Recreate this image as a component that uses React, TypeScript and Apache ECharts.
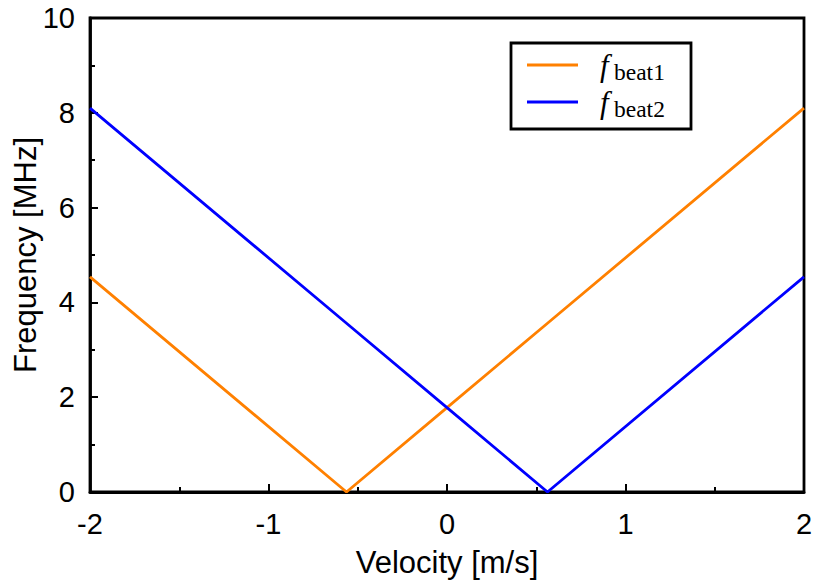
import React, { useEffect, useRef } from "react";
import * as echarts from "echarts";

// Beat frequencies versus target velocity (breakpoints of the V-shaped curves)
const velocity = [-2, -0.563, 0, 0.563, 2];
const fBeat1 = [4.54, 0, 1.78, 3.56, 8.1];
const fBeat2 = [8.1, 3.56, 1.78, 0, 4.54];

const xTicks = [-2, -1, 0, 1, 2];
const yTicks = [0, 2, 4, 6, 8, 10];

const seriesNames = ["beat1", "beat2"];
const seriesColors = ["#ff8000", "#0000ff"];

const sans = "'Liberation Sans', Arial, Helvetica, sans-serif";
const serif = "'Liberation Serif', 'Times New Roman', serif";

export default function App() {
  const ref = useRef<HTMLDivElement>(null);

  useEffect(() => {
    if (!ref.current) return;
    const chart = echarts.init(ref.current, undefined, { renderer: "svg" });

    const legendItems = seriesNames.map((name, i) => {
      const cy = 65 + i * 37;
      return [
        {
          type: "line",
          shape: { x1: 527, y1: cy, x2: 578, y2: cy },
          style: { stroke: seriesColors[i], lineWidth: 2.8 },
        },
        {
          type: "text",
          x: 600,
          y: cy,
          style: {
            text: "f",
            fontFamily: serif,
            fontStyle: "italic",
            fontSize: 31,
            fill: "#000",
            verticalAlign: "middle",
          },
        },
        {
          type: "text",
          x: 614,
          y: cy + 7,
          style: {
            text: name,
            fontFamily: serif,
            fontSize: 23.5,
            fill: "#000",
            verticalAlign: "middle",
          },
        },
      ];
    });

    const axisCommon = {
      axisLine: { show: true, onZero: false, lineStyle: { color: "#000", width: 2.8 } },
      axisTick: { show: true, inside: true, length: 8, lineStyle: { color: "#000", width: 2 } },
      minorTick: { show: true, splitNumber: 2, length: 5, lineStyle: { color: "#000", width: 2 } },
      splitLine: { show: false },
      nameLocation: "middle",
      nameMoveOverlap: false,
      nameTextStyle: { fontFamily: sans, fontSize: 31, color: "#000" },
    };

    chart.setOption({
      animation: false,
      grid: {
        left: 90,
        right: 14,
        top: 18,
        bottom: 89,
        outerBoundsMode: "none",
        containLabel: false,
        show: true,
        borderColor: "#000",
        borderWidth: 2.8,
        backgroundColor: "transparent",
      },
      xAxis: {
        type: "value",
        min: xTicks[0],
        max: xTicks[xTicks.length - 1],
        interval: 1,
        name: "Velocity [m/s]",
        nameGap: 55,
        ...axisCommon,
        axisLabel: {
          fontFamily: sans,
          fontSize: 29,
          color: "#000",
          margin: 17,
          formatter: (v: number) => (xTicks.includes(v) ? String(v) : ""),
        },
      },
      yAxis: {
        type: "value",
        min: yTicks[0],
        max: yTicks[yTicks.length - 1],
        interval: 2,
        name: "Frequency [MHz]",
        nameGap: 49,
        ...axisCommon,
        axisLabel: {
          fontFamily: sans,
          fontSize: 29,
          color: "#000",
          margin: 15,
          formatter: (v: number) => (yTicks.includes(v) ? String(v) : ""),
        },
      },
      series: [fBeat1, fBeat2].map((vals, i) => ({
        name: seriesNames[i],
        type: "line",
        data: velocity.map((v, j) => [v, vals[j]]),
        showSymbol: false,
        symbol: "none",
        lineStyle: { color: seriesColors[i], width: 2.8 },
        z: 1,
      })),
      graphic: [
        {
          type: "rect",
          shape: { x: 511, y: 43, width: 180, height: 86 },
          style: { fill: "#fff", stroke: "#000", lineWidth: 2.8 },
          z: 10,
        },
        ...legendItems.flat().map((el) => ({ ...el, z: 11 })),
      ],
    });

    return () => chart.dispose();
  }, []);

  return <div ref={ref} style={{ width: 818, height: 581, position: "absolute", left: 0, top: 0 }} />;
}
